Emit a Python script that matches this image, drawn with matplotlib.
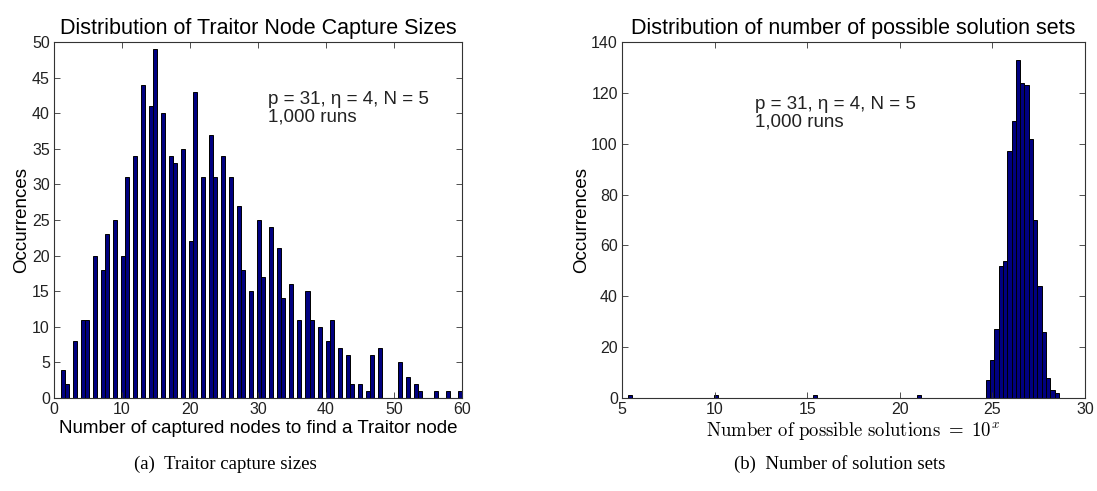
import numpy as np
import matplotlib
matplotlib.use("Agg")
import matplotlib.pyplot as plt

plt.rcParams["font.family"] = ["Liberation Sans", "DejaVu Sans"]
plt.rcParams["mathtext.fontset"] = "cm"

# Left: number of captured nodes needed to find a traitor node (1..60)
capture_sizes = np.arange(1, 61)
capture_counts = [4, 2, 8, 11, 11, 20, 18, 23, 25, 20,
                  31, 34, 44, 41, 49, 40, 34, 33, 35, 22,
                  43, 31, 37, 31, 34, 31, 27, 18, 15, 25,
                  17, 24, 21, 14, 16, 11, 15, 11, 10, 8,
                  11, 7, 6, 2, 2, 1, 6, 7, 0, 0,
                  5, 3, 2, 1, 0, 1, 0, 1, 0, 1]

# Right: exponent x of the number of possible solutions (10^x)
solution_exponents = [5.4, 10.1, 15.4, 21.0,
                      24.75, 24.98, 25.22, 25.45, 25.68, 25.92, 26.15, 26.38, 26.61,
                      26.85, 27.08, 27.31, 27.55, 27.78, 28.01, 28.24, 28.48]
solution_counts = [1, 1, 1, 1,
                   7, 15, 27, 52, 54, 97, 109, 133, 124, 123,
                   102, 70, 44, 26, 8, 3, 2]

bar_color = (0, 0, 0.5)
fig = plt.figure(figsize=(10.97, 4.91), dpi=100)

# ---- left panel
ax1 = fig.add_axes([0.0492, 0.1894, 0.3719, 0.7251])
ax1.hist(capture_sizes, bins=100, range=(1, 60), weights=capture_counts,
         color=bar_color, edgecolor="black", linewidth=0.7)
ax1.set_xlim(0, 60)
ax1.set_ylim(0, 50)
ax1.set_xticks(range(0, 61, 10))
ax1.set_yticks(range(0, 51, 5))
ax1.set_title("Distribution of Traitor Node Capture Sizes", fontsize=15.5, pad=6)
ax1.set_xlabel("Number of captured nodes to find a Traitor node", fontsize=13.5, labelpad=2)
ax1.set_ylabel("Occurrences", fontsize=13.5, labelpad=1)
ax1.text(31.5, 40.7, "p = 31, η = 4, N = 5\n1,000 runs", fontsize=13.5,
         va="center", linespacing=1.05, color="#222222")

# ---- right panel
ax2 = fig.add_axes([0.567, 0.1894, 0.422, 0.7251])
ax2.hist(solution_exponents, bins=100, range=(5.3, 28.6), weights=solution_counts,
         color=bar_color, edgecolor="black", linewidth=0.7)
ax2.set_xlim(5, 30)
ax2.set_ylim(0, 140)
ax2.set_xticks(range(5, 31, 5))
ax2.set_yticks(range(0, 141, 20))
ax2.set_title("Distribution of number of possible solution sets", fontsize=15.5, pad=6)
ax2.set_xlabel(r"$\mathrm{Number\ of\ possible\ solutions}\ =\ 10^{x}$", fontsize=13.5, labelpad=2)
ax2.set_ylabel("Occurrences", fontsize=13.5, labelpad=1)
ax2.text(12.2, 112, "p = 31, η = 4, N = 5\n1,000 runs", fontsize=13.5,
         va="center", linespacing=1.05, color="#222222")

for ax in (ax1, ax2):
    ax.tick_params(direction="in", top=True, right=True, labelsize=11.5,
                   length=4, width=0.6, pad=3, colors="#333333", labelcolor="#222222")
    for s in ax.spines.values():
        s.set_linewidth(0.8)
        s.set_color("#333333")

# subfigure captions
fig.text(0.205, 0.045, "(a)  Traitor capture sizes", family="Liberation Serif",
         fontsize=13.5, ha="center")
fig.text(0.765, 0.045, "(b)  Number of solution sets", family="Liberation Serif",
         fontsize=13.5, ha="center")

fig.savefig("out.png", dpi=100)
